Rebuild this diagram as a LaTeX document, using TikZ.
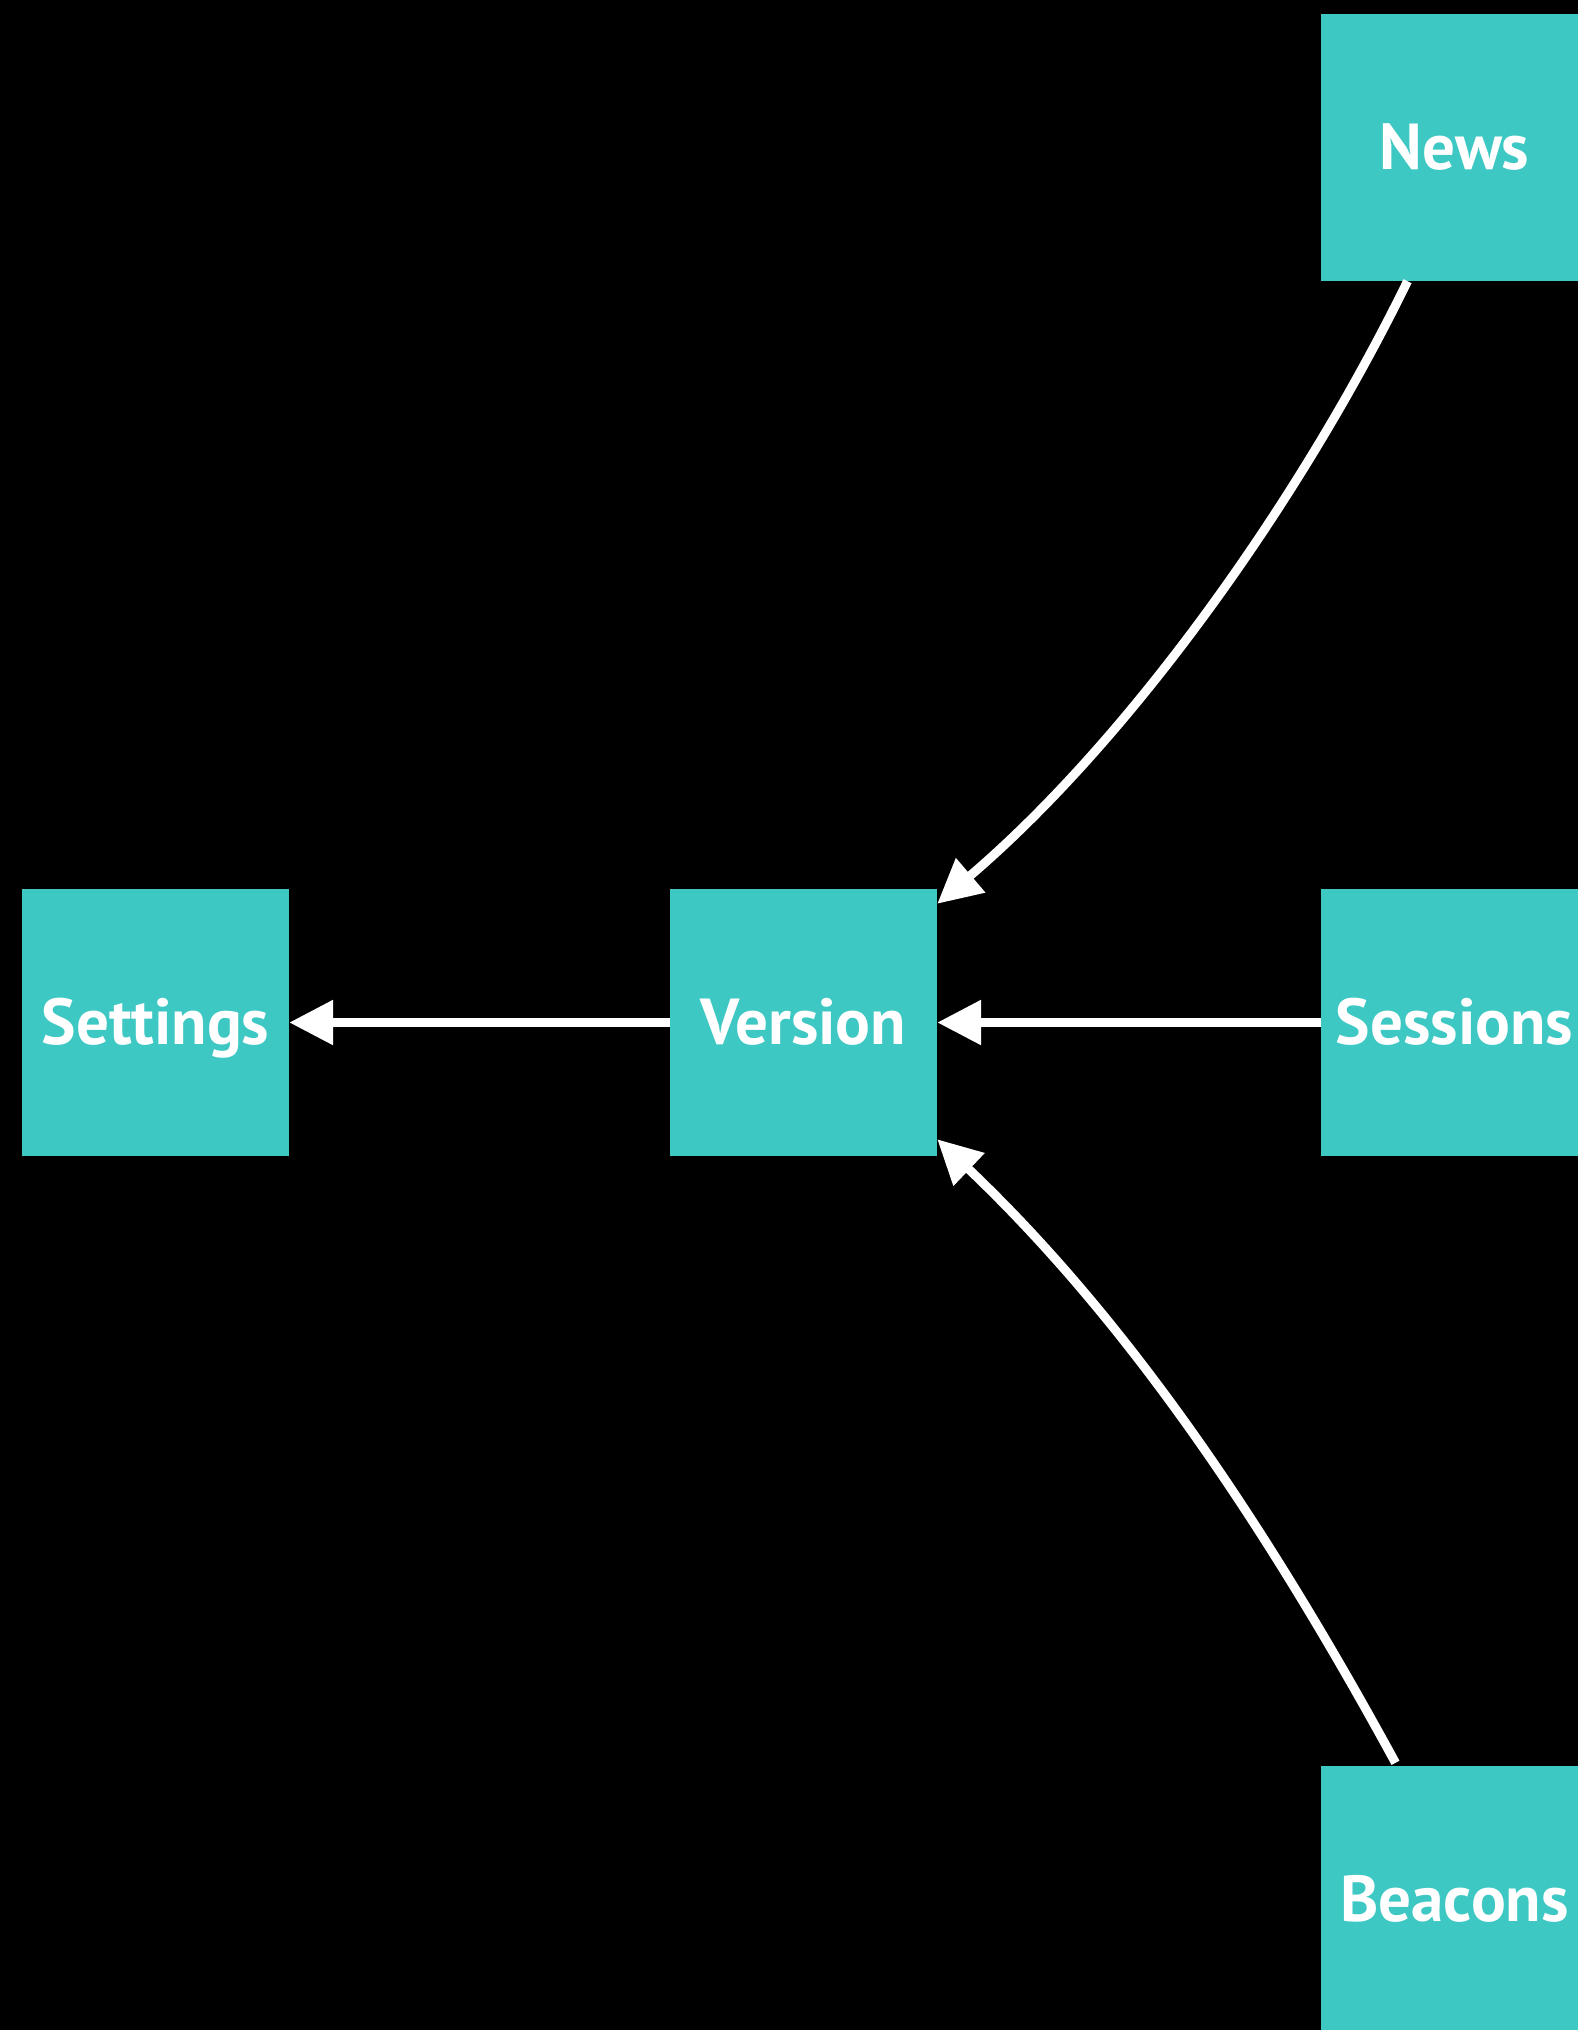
\documentclass[tikz,border=0pt]{standalone}
\usepackage{fontspec}
\setmainfont{PT Sans}
\usetikzlibrary{arrows.meta,calc}
\definecolor{tealbox}{HTML}{3EC8C3}
\tikzset{
  box/.style={fill=tealbox, draw=none, minimum width=267pt, minimum height=267pt, inner sep=0pt,
    text=white, font=\fontsize{65pt}{72pt}\selectfont\bfseries, text height=44pt, text depth=0pt, align=center},
  arr/.style={draw=white, line width=9pt, -{Triangle[length=44pt,width=43pt]}}
}
\begin{document}
\begin{tikzpicture}[x=1pt,y=-1pt]
\useasboundingbox (0,0) rectangle (1578,2030);
\clip (0,0) rectangle (1578,2030);
\fill[black] (0,0) rectangle (1578,2030);
\node[box] (settings) at (155.5,1022.5) {Settings};
\node[box] (version) at (803.5,1022.5) {Version};
\node[box] (sessions) at (1454.5,1022.5) {Sessions};
\node[box] (news) at (1454.5,147.5) {News};
\node[box] (beacons) at (1454.5,1899.5) {Beacons};
\draw[arr] (version.west) -- (settings.east);
\draw[arr] (sessions.west) -- (version.east);
\draw[arr] ([xshift=-47pt]news.south) .. controls +(-110,225) and +(190,-162) .. ([yshift=-15pt]version.north east);
\draw[arr] ([xshift=-59pt,yshift=3pt]beacons.north) .. controls +(-120,-220) and +(200,190) .. ([yshift=17pt]version.south east);
\end{tikzpicture}
\end{document}
